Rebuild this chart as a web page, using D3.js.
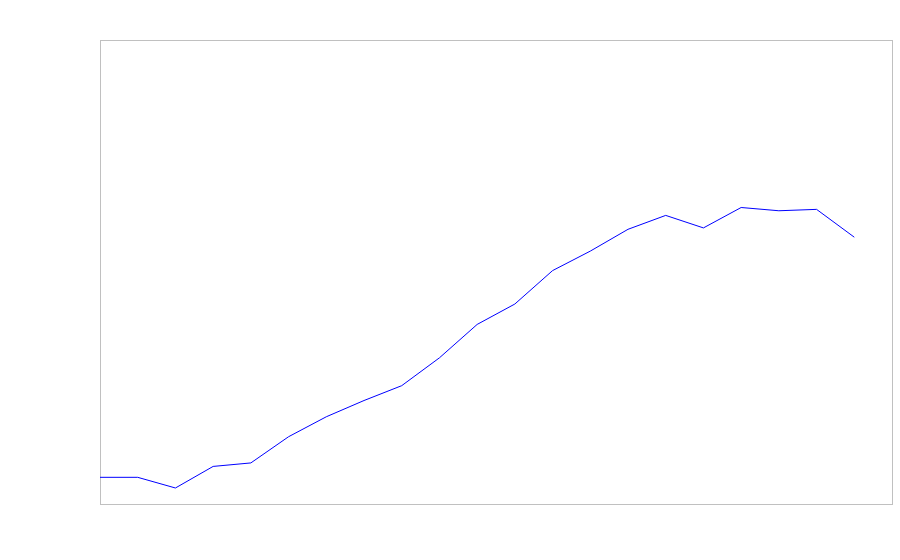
<!DOCTYPE html>
<html>
<head>
<meta charset="utf-8">
<script src="https://cdn.jsdelivr.net/npm/d3@7"></script>
<style>
	body { margin: 0; background: #fff; }
</style>
</head>
<body>
<div id="chart"></div>
<script>
// data (no axes shown, so values are on a 0-100 scale)
var steps = d3.range(21);
var values = [5.75, 5.75, 3.45, 8.1, 8.85, 14.5, 18.8, 22.3, 25.5, 31.5, 38.7,
	43.1, 50.3, 54.5, 59.2, 62.2, 59.5, 63.9, 63.2, 63.5, 57.5];
var xDomain = [0, 21];
var yDomain = [0, 100];

// Graph dimensions
var margin = { top: 40, right: 8, bottom: 56, left: 100 },
	width = 900 - margin.left - margin.right,
	height = 560 - margin.top - margin.bottom;

var svg = d3.select("#chart")
	.append("svg")
	.attr("width", 900)
	.attr("height", 560)
	.append("g")
	.attr("transform", "translate(" + margin.left + "," + margin.top + ")");

var x = d3.scaleLinear()
	.domain(xDomain)
	.range([0, width]);

var y = d3.scaleLinear()
	.domain(yDomain)
	.range([height, 0]);

// plot frame
svg.append("rect")
	.attr("x", 0.5)
	.attr("y", 0.5)
	.attr("width", width)
	.attr("height", height)
	.style("fill", "none")
	.style("stroke", "#c0c0c0")
	.style("stroke-width", 1);

var line = d3.line()
	.x(function(d, i) { return x(steps[i]); })
	.y(function(d) { return y(d); });

svg.append("path")
	.datum(values)
	.attr("d", line)
	.style("fill", "none")
	.style("stroke", "blue")
	.style("stroke-width", 1);
</script>
</body>
</html>
